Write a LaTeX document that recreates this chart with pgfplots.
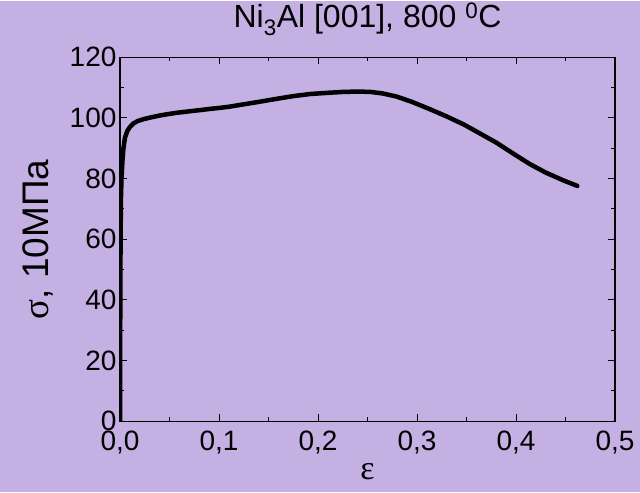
\documentclass[border=0pt]{standalone}
\usepackage{pgfplots}
\pgfplotsset{compat=1.18}
\usepackage{fontspec}
\setmainfont{Liberation Sans}
\newfontfamily\greekfont{Liberation Serif}
\usetikzlibrary{backgrounds}
\definecolor{bg}{RGB}{197,176,228}

\begin{document}
\begin{tikzpicture}
\begin{axis}[
    name=ax,
    scale only axis,
    width=495pt, height=364pt,
    xmin=0, xmax=0.5, ymin=0, ymax=120,
    xtick={0,0.1,0.2,0.3,0.4,0.5},
    ytick={0,20,40,60,80,100,120},
    minor x tick num=1, minor y tick num=1,
    tick align=inside,
    major tick length=7pt, minor tick length=4pt,
    axis line style={line width=1.2pt},
    every tick/.style={line width=1pt, black},
    tick label style={font=\fontsize{28}{28}\selectfont},
    xticklabel style={yshift=-6pt, /pgf/number format/.cd, use comma, fixed, fixed zerofill, precision=1, assume math mode=true},
    yticklabel style={/pgf/number format/assume math mode=true},
    title={Ni\textsubscript{3}Al [001], 800 \textsuperscript{0}C},
    title style={font=\fontsize{32}{32}\selectfont, at={(0.5,1)}, anchor=center, yshift=32pt},
    xlabel={\greekfont ε},
    xlabel style={font=\fontsize{34}{34}\selectfont, at={(0.5,0)}, anchor=center, yshift=-50pt},
    ylabel={{\greekfont σ}, 10МПа},
    ylabel style={font=\fontsize{37}{37}\selectfont, at={(-0.165,0.5)}, anchor=center},
]
\addplot[black, line width=4.5pt, line join=round, line cap=round] coordinates {
    (0,0)(0.0003,40)(0.0006,62)(0.001,74)(0.0015,80)(0.0025,86)(0.0035,90)
    (0.005,93.5)(0.0075,95.8)(0.010,97)(0.0135,98.2)(0.018,99)(0.0236,99.6)
    (0.030,100.1)(0.04,100.8)(0.047,101.2)(0.057,101.7)(0.07,102.2)(0.081,102.6)
    (0.091,103.0)(0.10,103.3)(0.11,103.7)(0.125,104.5)(0.14,105.3)(0.158,106.3)
    (0.175,107.2)(0.192,107.9)(0.21,108.3)(0.226,108.6)(0.24,108.7)(0.253,108.6)
    (0.265,108.1)(0.279,107.1)(0.295,105.3)(0.313,102.9)(0.33,100.5)(0.347,97.9)
    (0.363,95.0)(0.38,91.9)(0.397,88.3)(0.414,84.8)(0.43,82.0)(0.448,79.4)(0.462,77.6)};
\end{axis}
\begin{pgfonlayer}{background}
\fill[bg] ([shift={(-120pt,-71pt)}]ax.south west) rectangle ([shift={(25pt,56pt)}]ax.north east);
\end{pgfonlayer}
\end{tikzpicture}
\end{document}
